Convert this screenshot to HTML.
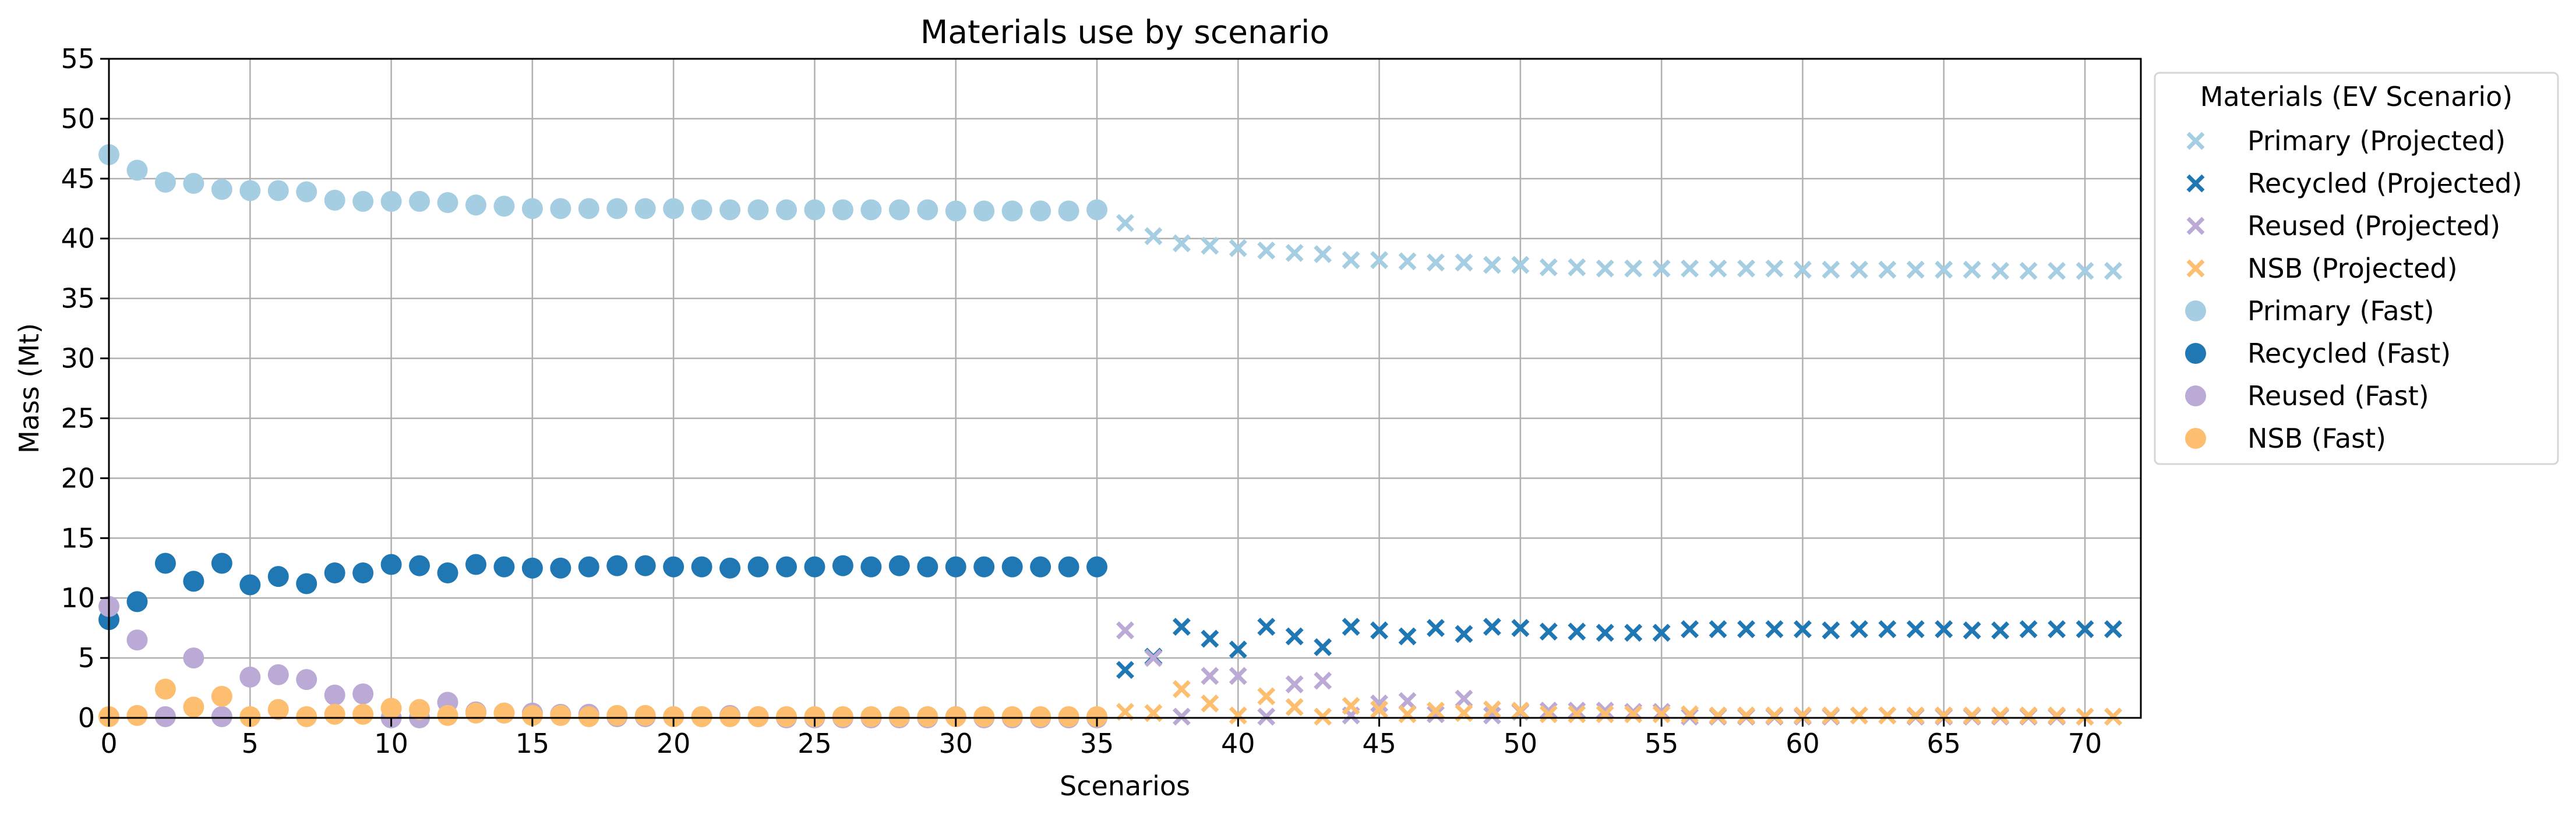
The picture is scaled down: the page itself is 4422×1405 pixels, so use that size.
<!DOCTYPE html>
<html><head><meta charset="utf-8"><style>
html,body{margin:0;padding:0;background:#fff}
svg{display:block;font-family:"DejaVu Sans","Liberation Sans",sans-serif}
</style></head><body>
<svg id="chart" width="4422" height="1405" viewBox="0 0 4422 1405" xmlns="http://www.w3.org/2000/svg">
<rect width="4422" height="1405" fill="#fff"/>
<g id="grid"></g><g id="marks"></g><g id="axes"></g><g id="legend"></g>
</svg>
<script>
const fastPrimary=[47.0,45.7,44.7,44.6,44.1,44.0,44.0,43.9,43.2,43.1,43.1,43.1,43.0,42.8,42.7,42.5,42.5,42.5,42.5,42.5,42.5,42.4,42.4,42.4,42.4,42.4,42.4,42.4,42.4,42.4,42.3,42.3,42.3,42.3,42.3,42.4];
const fastRecycled=[8.2,9.7,12.9,11.4,12.9,11.1,11.8,11.2,12.1,12.1,12.8,12.7,12.1,12.8,12.6,12.5,12.5,12.6,12.7,12.7,12.6,12.6,12.5,12.6,12.6,12.6,12.7,12.6,12.7,12.6,12.6,12.6,12.6,12.6,12.6,12.6];
const fastReused=[9.3,6.5,0.1,5.0,0.1,3.4,3.6,3.2,1.9,2.0,0.0,0.0,1.3,0.5,0.4,0.4,0.3,0.3,0.1,0.1,0.1,0.1,0.2,0.1,0,0,0,0,0,0,0.1,0,0,0,0,0];
const fastNSB=[0.1,0.2,2.4,0.9,1.8,0.1,0.7,0.1,0.3,0.3,0.8,0.7,0.2,0.4,0.4,0.2,0.2,0.1,0.2,0.2,0.1,0.1,0.1,0.1,0.1,0.1,0.1,0.1,0.1,0.1,0.1,0.1,0.1,0.1,0.1,0.1];
const projPrimary=[41.3,40.2,39.6,39.4,39.2,39.0,38.8,38.7,38.2,38.2,38.1,38.0,38.0,37.8,37.8,37.6,37.6,37.5,37.5,37.5,37.5,37.5,37.5,37.5,37.4,37.4,37.4,37.4,37.4,37.4,37.4,37.3,37.3,37.3,37.3,37.3];
const projRecycled=[4.0,5.1,7.6,6.6,5.7,7.6,6.8,5.9,7.6,7.3,6.8,7.5,7.0,7.6,7.5,7.2,7.2,7.1,7.1,7.1,7.4,7.4,7.4,7.4,7.4,7.3,7.4,7.4,7.4,7.4,7.3,7.3,7.4,7.4,7.4,7.4];
const projReused=[7.3,5.0,0.1,3.5,3.5,0.1,2.8,3.1,0.2,1.2,1.4,0.3,1.6,0.2,0.5,0.6,0.6,0.6,0.5,0.5,0.1,0.1,0.1,0.1,0.1,0.1,0.2,0.2,0.1,0.1,0.1,0.1,0.1,0.1,0.1,0.1];
const projNSB=[0.5,0.4,2.4,1.2,0.2,1.8,0.9,0.1,1.0,0.7,0.3,0.6,0.4,0.7,0.6,0.3,0.3,0.3,0.3,0.3,0.3,0.2,0.2,0.2,0.2,0.2,0.2,0.2,0.2,0.2,0.2,0.2,0.2,0.2,0.1,0.1];
const projStart=36;
const xTicks=[0,5,10,15,20,25,30,35,40,45,50,55,60,65,70];
const yTicks=[0,5,10,15,20,25,30,35,40,45,50,55];
const legendLabels=["Primary (Projected)","Recycled (Projected)","Reused (Projected)","NSB (Projected)","Primary (Fast)","Recycled (Fast)","Reused (Fast)","NSB (Fast)"];

const NS="http://www.w3.org/2000/svg";
const L=187,R=3675,T=101,B=1233,XMAX=71.98,YMAX=55;
const xs=v=>L+v/XMAX*(R-L);
const ys=v=>B-v/YMAX*(B-T);
const colors={primary:"#a6cee3",recycled:"#1f78b4",reused:"#bcaad6",nsb:"#fdbf6f"};
function mk(tag,attrs,parent){const e=document.createElementNS(NS,tag);for(const k in attrs)e.setAttribute(k,attrs[k]);parent.appendChild(e);return e;}
const grid=document.getElementById('grid'),marks=document.getElementById('marks'),axes=document.getElementById('axes'),legend=document.getElementById('legend');

xTicks.forEach(t=>{const l=mk('line',{x1:xs(t),x2:xs(t),y1:T,y2:B,stroke:'#b0b0b0','stroke-width':2.5},grid);

});
yTicks.forEach(t=>{const l=mk('line',{x1:L,x2:R,y1:ys(t),y2:ys(t),stroke:'#b0b0b0','stroke-width':2.5},grid);

});

function cross(x,y,c,parent){const g=mk('g',{stroke:c,'stroke-width':7,'stroke-linecap':'butt'},parent);const s=13;
mk('line',{x1:x-s,y1:y-s,x2:x+s,y2:y+s},g);mk('line',{x1:x-s,y1:y+s,x2:x+s,y2:y-s},g);return g;}
function dot(x,y,c,parent){return mk('circle',{cx:x,cy:y,r:18,fill:c},parent);}

[[projPrimary,'primary'],[projRecycled,'recycled'],[projReused,'reused'],[projNSB,'nsb']].forEach(([arr,k])=>{
 arr.forEach((v,i)=>{const m=cross(xs(projStart+i),ys(v),colors[k],marks);
 
 });});
[[fastPrimary,'primary'],[fastRecycled,'recycled'],[fastReused,'reused'],[fastNSB,'nsb']].forEach(([arr,k])=>{
 arr.forEach((v,i)=>{const m=dot(xs(i),ys(v),colors[k],marks);
 
 });});

const fr=mk('rect',{x:L,y:T,width:R-L,height:B-T,fill:'none',stroke:'#000','stroke-width':3},axes);


xTicks.forEach(t=>{mk('line',{x1:xs(t),x2:xs(t),y1:B,y2:B+15,stroke:'#000','stroke-width':3},axes);
 const tx=mk('text',{x:xs(t),y:B+60,'font-size':46,'text-anchor':'middle',fill:'#000'},axes);tx.textContent=t;
 
 });
yTicks.forEach(t=>{mk('line',{x1:L-15,x2:L,y1:ys(t),y2:ys(t),stroke:'#000','stroke-width':3},axes);
 const tx=mk('text',{x:L-24,y:ys(t)+16,'font-size':46,'text-anchor':'end',fill:'#000'},axes);tx.textContent=t;
 
 });
const title=mk('text',{x:(L+R)/2,y:74,'font-size':55,'text-anchor':'middle',fill:'#000'},axes);title.textContent='Materials use by scenario';


const xl=mk('text',{x:(L+R)/2,y:1366,'font-size':46,'text-anchor':'middle',fill:'#000'},axes);xl.textContent='Scenarios';


const yl=mk('text',{x:0,y:0,'font-size':46,'text-anchor':'middle',fill:'#000',transform:'translate(66,667) rotate(-90)'},axes);yl.textContent='Mass (Mt)';



const lb=mk('rect',{x:3699,y:125,width:692,height:672,rx:8,fill:'#fff',stroke:'#d6d6d6','stroke-width':3},legend);


const lt=mk('text',{x:4045,y:182,'font-size':46,'text-anchor':'middle',fill:'#000'},legend);lt.textContent='Materials (EV Scenario)';


const keys=['primary','recycled','reused','nsb'];
legendLabels.forEach((lab,i)=>{const y=242+i*73;const c=colors[keys[i%4]];
 const m=i<4?cross(3769,y,c,legend):dot(3769,y,c,legend);
 
 
 const tx=mk('text',{x:3858,y:y+16,'font-size':46,fill:'#000'},legend);tx.textContent=lab;
 
 });
</script>
</body></html>
